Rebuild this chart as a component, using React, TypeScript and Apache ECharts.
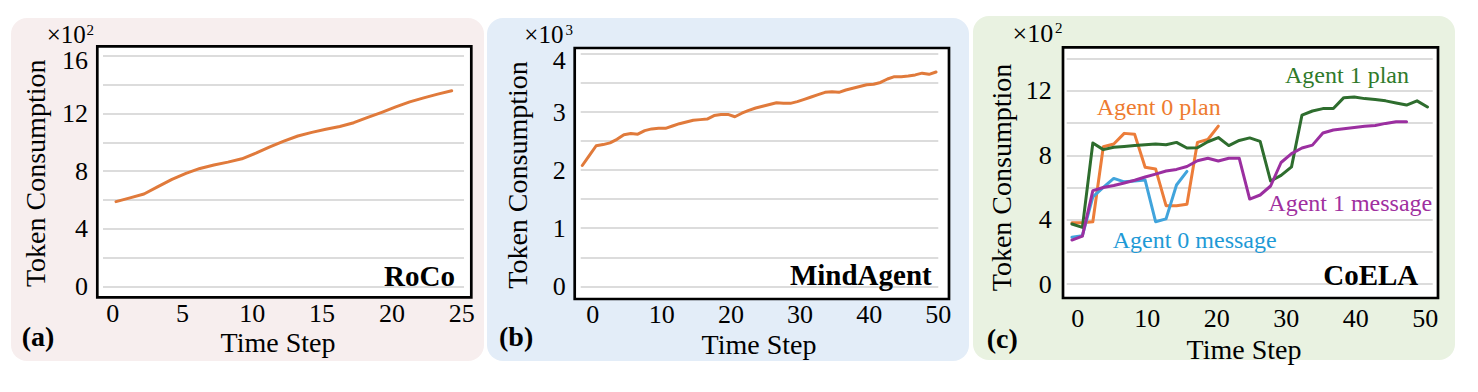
import React, { useEffect, useRef } from 'react';
import * as echarts from 'echarts';

const FONT = '"Liberation Serif", "Times New Roman", serif';

// ---------- (a) RoCo, tokens (axis shown in ×10²) ----------
const roCoTicksX = [0, 5, 10, 15, 20, 25];
const roCoTicksY = [0, 400, 800, 1200, 1600];
const roCoTokens = [589, 615, 642, 693, 743, 785, 819, 843, 863, 886, 925, 968, 1008, 1044, 1069, 1090, 1110, 1136, 1173, 1208, 1245, 1280, 1308, 1334, 1357];

// ---------- (b) MindAgent, tokens (axis shown in ×10³) ----------
const mindTicksX = [0, 10, 20, 30, 40, 50];
const mindTicksY = [0, 1000, 2000, 3000, 4000];
const mindTokens = [2080, 2250, 2420, 2440, 2470, 2530, 2610, 2630, 2620, 2680, 2710, 2720, 2720, 2760, 2800, 2830, 2860, 2870, 2880, 2940, 2960, 2960, 2920, 2980, 3030, 3070, 3100, 3130, 3160, 3150, 3150, 3180, 3220, 3260, 3300, 3340, 3350, 3340, 3380, 3410, 3440, 3470, 3480, 3510, 3570, 3610, 3610, 3620, 3640, 3670, 3650, 3690];

// ---------- (c) CoELA, tokens (axis shown in ×10²) ----------
const coelaTicksX = [0, 10, 20, 30, 40, 50];
const coelaTicksY = [0, 400, 800, 1200];
const agent0Plan = [380, 380, 387, 853, 870, 936, 930, 725, 715, 487, 486, 495, 880, 898, 981];
const agent0Message = [290, 300, 542, 600, 656, 635, 640, 646, 387, 405, 615, 700];
const agent1Plan = [373, 352, 876, 835, 850, 855, 860, 865, 870, 865, 880, 845, 847, 884, 910, 860, 892, 908, 886, 640, 675, 728, 1050, 1075, 1090, 1090, 1158, 1162, 1152, 1146, 1138, 1125, 1112, 1138, 1100];
const agent1Message = [273, 298, 580, 600, 612, 628, 645, 665, 683, 702, 712, 730, 766, 781, 764, 781, 781, 528, 553, 609, 755, 810, 845, 863, 938, 957, 965, 973, 980, 985, 998, 1008, 1008];

const pairs = (arr: number[]) => arr.map((v, i) => [i, v]);

const labelStyle = { fontSize: 26, fontFamily: FONT, color: '#000' };
const gridLine = { lineStyle: { color: '#dcdcdc', width: 2 } };

function labelAxis(gridIndex: number, min: number, max: number, values: number[], margin: number) {
  return {
    type: 'value', gridIndex, position: 'bottom', min, max,
    axisLine: { show: false }, axisTick: { show: false }, splitLine: { show: false },
    axisLabel: { ...labelStyle, customValues: values, margin },
  };
}
function dataAxis(gridIndex: number, min: number, max: number) {
  return { type: 'value', gridIndex, show: false, min, max };
}
function yAxis(gridIndex: number, max: number, interval: number, values: number[], div: number, topPad: number) {
  return {
    type: 'value', gridIndex, min: 0, max, interval,
    axisLine: { show: false }, axisTick: { show: false }, splitLine: gridLine,
    axisLabel: {
      ...labelStyle, margin: 15, customValues: values,
      formatter: (v: number) => (v === max ? `{top|${v / div}}` : String(v / div)),
      rich: { top: { fontSize: 26, fontFamily: FONT, color: '#000', padding: [topPad, 0, 0, 0] } },
    },
  };
}
function line(xi: number, yi: number, data: number[], color: string, z = 3) {
  return {
    type: 'line', xAxisIndex: xi, yAxisIndex: yi, data: pairs(data), showSymbol: false, z,
    lineStyle: { color, width: 3, cap: 'round', join: 'round' }, itemStyle: { color },
  };
}
function txt(x: number, y: number, text: string, size: number, color = '#000', opts: any = {}) {
  return {
    type: 'text', x, y, z: 20, rotation: opts.rotation || 0,
    style: {
      text, fill: color, fontSize: size, fontFamily: FONT, fontWeight: opts.bold ? 'bold' : 'normal',
      align: opts.align || 'left', verticalAlign: 'middle',
      textAlign: opts.align || 'left', textVerticalAlign: 'middle',
    },
  };
}
function bg(x: number, y: number, w: number, h: number, fill: string) {
  return { type: 'rect', z: -20, shape: { x, y, width: w, height: h, r: 16 }, style: { fill } };
}
function box(x: number, y: number, w: number, h: number) {
  return { type: 'rect', z: -10, shape: { x, y, width: w, height: h }, style: { fill: '#fff', stroke: '#000', lineWidth: 2.7 } };
}

export default function App() {
  const ref = useRef<HTMLDivElement>(null);
  useEffect(() => {
    if (!ref.current) return;
    const chart = echarts.init(ref.current, undefined, { renderer: 'svg', width: 1478, height: 392 });
    const option: any = {
      animation: false,
      grid: [
        { left: 103, top: 55.7, width: 361, height: 231 },
        { left: 580.7, top: 54, width: 357.6, height: 232.3 },
        { left: 1066.7, top: 58.7, width: 366, height: 225.3 },
      ],
      xAxis: [
        dataAxis(0, -0.93, 24.88),
        labelAxis(0, -0.69, 25.16, roCoTicksX, 14),
        dataAxis(1, -0.23, 51.33),
        labelAxis(1, -1.74, 50, mindTicksX, 15.5),
        dataAxis(2, -0.5, 34.5),
        labelAxis(2, -1.6, 51.08, coelaTicksX, 21.5),
      ],
      yAxis: [
        yAxis(0, 1600, 200, roCoTicksY, 100, 10),
        yAxis(1, 4000, 500, mindTicksY, 1000, 13),
        yAxis(2, 1400, 200, coelaTicksY, 100, 0),
      ],
      series: [
        line(0, 0, roCoTokens, '#e07a3b'),
        line(2, 1, mindTokens, '#e07a3b'),
        line(4, 2, agent0Plan, '#ec7d3a', 3),
        line(4, 2, agent0Message, '#41a4dc', 4),
        line(4, 2, agent1Plan, '#2e6d2e', 5),
        line(4, 2, agent1Message, '#9b2fa0', 6),
      ],
      graphic: [
        bg(11, 18, 473, 343, '#f7eeee'),
        bg(487, 18, 482, 343, '#e3edf8'),
        bg(973, 16, 482, 344, '#e9f2e1'),
        box(97.3, 46.3, 374, 251),
        box(574.7, 48, 374.3, 251),
        box(1063, 47.3, 375, 250.7),
        // multipliers
        txt(46.7, 34.6, '×10', 25),
        txt(86.5, 30, '2', 15),
        txt(524.3, 34.6, '×10', 25),
        txt(565.5, 30, '3', 15),
        txt(1012.5, 33, '×10', 26),
        txt(1055, 28.3, '2', 15),
        // y titles
        txt(35, 173.3, 'Token Consumption', 28, '#000', { rotation: Math.PI / 2, align: 'center' }),
        txt(517.6, 175, 'Token Consumption', 28, '#000', { rotation: Math.PI / 2, align: 'center' }),
        txt(1001, 177.5, 'Token Consumption', 28, '#000', { rotation: Math.PI / 2, align: 'center' }),
        // x titles
        txt(278, 342.5, 'Time Step', 28, '#000', { align: 'center' }),
        txt(759, 344, 'Time Step', 28, '#000', { align: 'center' }),
        txt(1244, 349, 'Time Step', 28, '#000', { align: 'center' }),
        // panel letters
        txt(21.7, 336, '(a)', 28, '#000', { bold: true }),
        txt(499, 336, '(b)', 28, '#000', { bold: true }),
        txt(986.7, 338, '(c)', 28, '#000', { bold: true }),
        // panel names
        txt(455, 276.2, 'RoCo', 29, '#000', { bold: true, align: 'right' }),
        txt(931.7, 275.2, 'MindAgent', 29, '#000', { bold: true, align: 'right' }),
        txt(1418.3, 275.2, 'CoELA', 29, '#000', { bold: true, align: 'right' }),
        // series annotations
        txt(1096.7, 106.9, 'Agent 0 plan', 24, '#ee7b30'),
        txt(1285, 74.6, 'Agent 1 plan', 24, '#2f7a2a'),
        txt(1268.3, 202.6, 'Agent 1 message', 24, '#a0309f'),
        txt(1112.7, 240.2, 'Agent 0 message', 24, '#1e9ad6'),
      ],
    };
    chart.setOption(option);
    return () => chart.dispose();
  }, []);
  return <div ref={ref} style={{ position: 'absolute', left: 0, top: 0, width: 1478, height: 392 }} />;
}
